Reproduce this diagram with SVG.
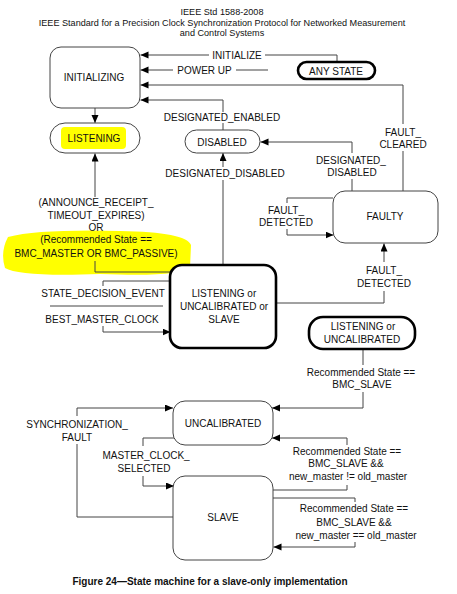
<svg xmlns="http://www.w3.org/2000/svg" width="457" height="594" viewBox="0 0 457 594">
<style>
text{font-family:"Liberation Sans",Arial,sans-serif;font-size:10px;fill:#111;text-anchor:middle}
.hdr{font-size:9.1px}
.cap{font-weight:bold}
.box{fill:#fff;stroke:#444;stroke-width:1}
.thick{fill:#fff;stroke:#000;stroke-width:2.6}
.c{fill:none;stroke:#444;stroke-width:1}
.a{marker-end:url(#ah)}
</style>
<defs>
<marker id="ah" markerWidth="9" markerHeight="8" refX="8" refY="3.5" orient="auto" markerUnits="userSpaceOnUse">
<path d="M0,0 L8,3.5 L0,7 z" fill="#000"/>
</marker>
</defs>
<rect width="457" height="594" fill="#fff"/>
<g id="header">
<text class="hdr" x="222" y="14.5">IEEE Std 1588-2008</text>
<text class="hdr" x="222" y="25.5">IEEE Standard for a Precision Clock Synchronization Protocol for Networked Measurement</text>
<text class="hdr" x="222" y="35.5">and Control Systems</text>
</g>
<g id="highlight">
<path d="M8,237 Q40,229 120,231 Q186,232 191,245 L190,268 Q180,277 100,274 Q20,277 5,268 Q0,252 8,237 Z" fill="#ffff00"/>
<rect x="61" y="127" width="65" height="22" rx="4" fill="#ffff00"/>
</g>
<g id="connectors">
<path class="c a" d="M337,62 V55 H265 M209,55 H140.5"/>
<path class="c a" d="M268,70 H236 M173,70 H140.5"/>
<path class="c a" d="M403,191 V151 M403,124 V85 H140.5"/>
<path class="c a" d="M223,130 V123 M223,112 V100 H140.5"/>
<path class="c a" d="M95,108 V123"/>
<path class="c a" d="M223,265 V180 M223,167 V153"/>
<path class="c a" d="M352,191 V179 M352,153 V142 H260.5"/>
<path class="c a" d="M333,198 H287 V203 M287,229 V235 H333.5"/>
<path class="c a" d="M276,303 H384 V291 M384,262 V243.5"/>
<path class="c a" d="M170,272 H95 V261 M95,197 V153.5"/>
<path class="c a" d="M170,281 H103 V286 M103,326 V332 H170.5"/>
<path class="c" d="M50,306 H163"/>
<path class="c a" d="M363,349 V365 M363,392 V408 H272"/>
<path class="c a" d="M173,517 H77 V444 M77,416 V408 H173"/>
<path class="c a" d="M175,438 H143 V446 M143,476 V486 H174"/>
<path class="c a" d="M273,490 H347 V485 M347,445 V438 H272"/>
<path class="c a" d="M273,498 H355 V502 M355,542 V547 H273.5"/>
</g>
<g id="initializing">
<rect class="box" x="50" y="47" width="90" height="61" rx="11"/>
<text x="94" y="81">INITIALIZING</text>
</g>
<g id="any-state">
<rect class="thick" x="298" y="62" width="77" height="17" rx="8.5"/>
<text x="336" y="74.5">ANY STATE</text>
</g>
<g id="listening">
<rect class="box" x="50" y="123" width="90" height="30" rx="15" fill="none" style="fill:none"/>
<text x="94" y="141.5">LISTENING</text>
</g>
<g id="disabled">
<rect class="box" x="185" y="130" width="75" height="23" rx="11.5"/>
<text x="222" y="145.5">DISABLED</text>
</g>
<g id="faulty">
<rect class="box" x="333" y="191" width="105" height="52" rx="12"/>
<text x="385" y="219.5">FAULTY</text>
</g>
<g id="listening-uncalibrated-slave">
<rect class="thick" x="170" y="265" width="106" height="83" rx="12"/>
<text x="224" y="297">LISTENING or</text>
<text x="224" y="310">UNCALIBRATED or</text>
<text x="224" y="323">SLAVE</text>
</g>
<g id="listening-uncalibrated">
<rect class="thick" x="309" y="317" width="106" height="32" rx="14"/>
<text x="363" y="329.5">LISTENING or</text>
<text x="362" y="342.5">UNCALIBRATED</text>
</g>
<g id="uncalibrated">
<rect class="box" x="173" y="401" width="100" height="44" rx="12"/>
<text x="223" y="426.5">UNCALIBRATED</text>
</g>
<g id="slave">
<rect class="box" x="173" y="476" width="100" height="84" rx="12"/>
<text x="223" y="520.5">SLAVE</text>
</g>
<g id="labels">
<text x="237" y="58.5">INITIALIZE</text>
<text x="204.5" y="73.5">POWER UP</text>
<text x="403" y="135.5">FAULT_</text>
<text x="403" y="147.5">CLEARED</text>
<text x="222" y="121">DESIGNATED_ENABLED</text>
<text x="225" y="176.5">DESIGNATED_DISABLED</text>
<text x="351" y="163.5">DESIGNATED_</text>
<text x="352" y="175.5">DISABLED</text>
<text x="286" y="213.5">FAULT_</text>
<text x="286" y="225.5">DETECTED</text>
<text x="384" y="273.5">FAULT_</text>
<text x="384" y="286.5">DETECTED</text>
<text x="96" y="205.5">(ANNOUNCE_RECEIPT_</text>
<text x="96" y="218.5">TIMEOUT_EXPIRES)</text>
<text x="96" y="230.5">OR</text>
<text x="96" y="242.5">(Recommended State ==</text>
<text x="96" y="256.5">BMC_MASTER OR BMC_PASSIVE)</text>
<text x="103" y="296.5">STATE_DECISION_EVENT</text>
<text x="102" y="322.5">BEST_MASTER_CLOCK</text>
<text x="361" y="375.5">Recommended State ==</text>
<text x="362" y="387.5">BMC_SLAVE</text>
<text x="77" y="427.5">SYNCHRONIZATION_</text>
<text x="77" y="440.5">FAULT</text>
<text x="146" y="458.5">MASTER_CLOCK_</text>
<text x="144" y="471.5">SELECTED</text>
<text x="347" y="454.5">Recommended State ==</text>
<text x="346" y="467">BMC_SLAVE &amp;&amp;</text>
<text x="348" y="480">new_master != old_master</text>
<text x="354" y="511.5">Recommended State ==</text>
<text x="354" y="525.5">BMC_SLAVE &amp;&amp;</text>
<text x="356" y="538.5">new_master == old_master</text>
</g>
<g id="caption">
<text class="cap" x="210" y="584.5">Figure 24—State machine for a slave-only implementation</text>
</g>
</svg>
